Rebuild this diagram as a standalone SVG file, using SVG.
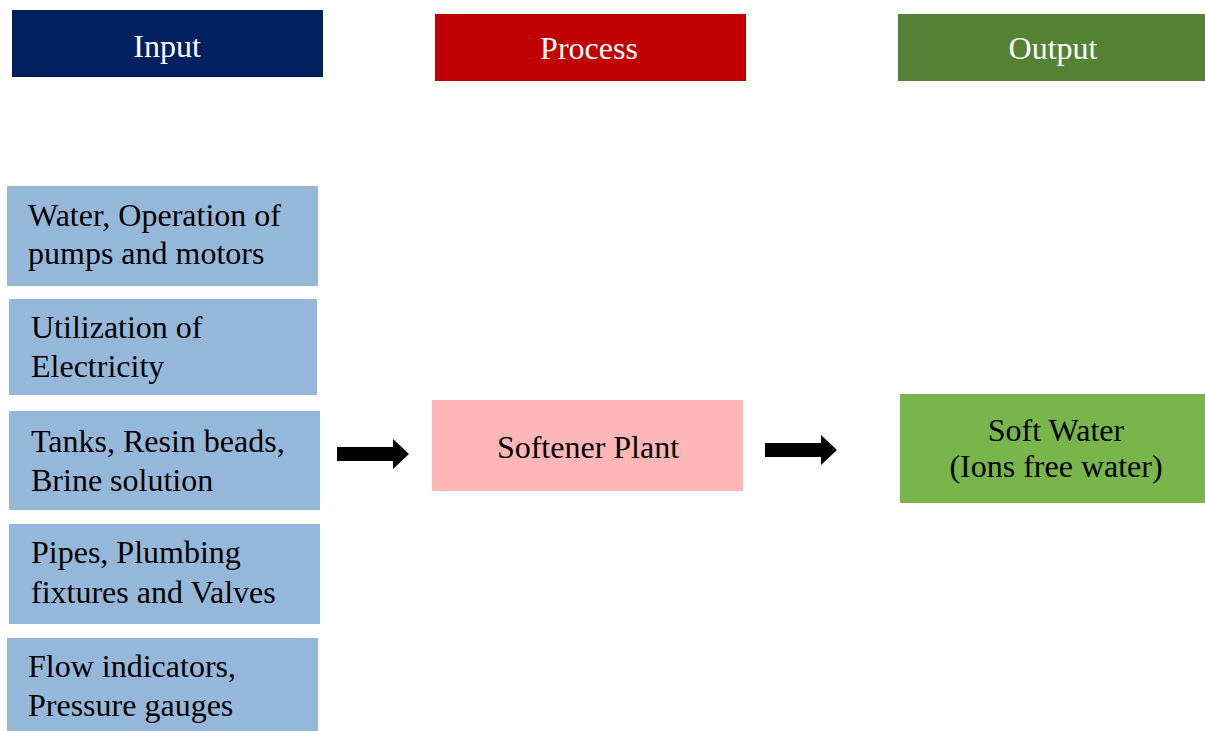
<svg xmlns="http://www.w3.org/2000/svg" width="1205" height="731" viewBox="0 0 1205 731">
  <style>
    text { font-family: "Liberation Serif", "Times New Roman", serif; }
    .hdr { font-size: 32px; fill: #ffffff; text-anchor: middle; }
    .lbl { font-size: 32px; fill: #000000; }
    .mid { font-size: 32px; fill: #000000; text-anchor: middle; }
    .inbox { fill: #95B8DA; }
  </style>
  <defs>
    <!-- block arrow: thin shaft with a triangular head -->
    <path id="blockArrow" d="M0,8 H56 V0 L72,15 L56,30 V22 H0 Z" fill="#000000"/>
  </defs>

  <rect width="1205" height="731" fill="#ffffff"/>

  <!-- column headers -->
  <g id="hdr-input">
    <rect x="12" y="10" width="311" height="67" fill="#002060"/>
    <text class="hdr" x="167" y="57">Input</text>
  </g>
  <g id="hdr-process">
    <rect x="435" y="14" width="311" height="67" fill="#C00000"/>
    <text class="hdr" x="589" y="59">Process</text>
  </g>
  <g id="hdr-output">
    <rect x="898" y="14" width="307" height="67" fill="#548235"/>
    <text class="hdr" x="1053" y="59">Output</text>
  </g>

  <!-- input items -->
  <g id="in-water">
    <rect class="inbox" x="7" y="186" width="311" height="100"/>
    <text class="lbl" x="28" y="226">Water, Operation of</text>
    <text class="lbl" x="28" y="264">pumps and motors</text>
  </g>
  <g id="in-electricity">
    <rect class="inbox" x="9" y="299" width="308" height="96"/>
    <text class="lbl" x="31" y="338">Utilization of</text>
    <text class="lbl" x="31" y="377">Electricity</text>
  </g>
  <g id="in-tanks">
    <rect class="inbox" x="9" y="411" width="311" height="99"/>
    <text class="lbl" x="31" y="452">Tanks, Resin beads,</text>
    <text class="lbl" x="31" y="491">Brine solution</text>
  </g>
  <g id="in-pipes">
    <rect class="inbox" x="9" y="524" width="311" height="100"/>
    <text class="lbl" x="31" y="563">Pipes, Plumbing</text>
    <text class="lbl" x="31" y="603">fixtures and Valves</text>
  </g>
  <g id="in-gauges">
    <rect class="inbox" x="7" y="638" width="311" height="93"/>
    <text class="lbl" x="28" y="677">Flow indicators,</text>
    <text class="lbl" x="28" y="716">Pressure gauges</text>
  </g>

  <!-- process -->
  <g id="softener-plant">
    <rect x="432" y="400" width="311" height="91" fill="#FFB6B6"/>
    <text class="mid" x="588" y="458">Softener Plant</text>
  </g>

  <!-- output -->
  <g id="soft-water">
    <rect x="900" y="394" width="305" height="109" fill="#78B64C"/>
    <text class="mid" x="1056" y="441">Soft Water</text>
    <text class="mid" x="1056" y="477">(Ions free water)</text>
  </g>

  <!-- connectors -->
  <g id="connectors">
    <use href="#blockArrow" x="337" y="439"/>
    <use href="#blockArrow" x="765" y="435"/>
  </g>
</svg>
